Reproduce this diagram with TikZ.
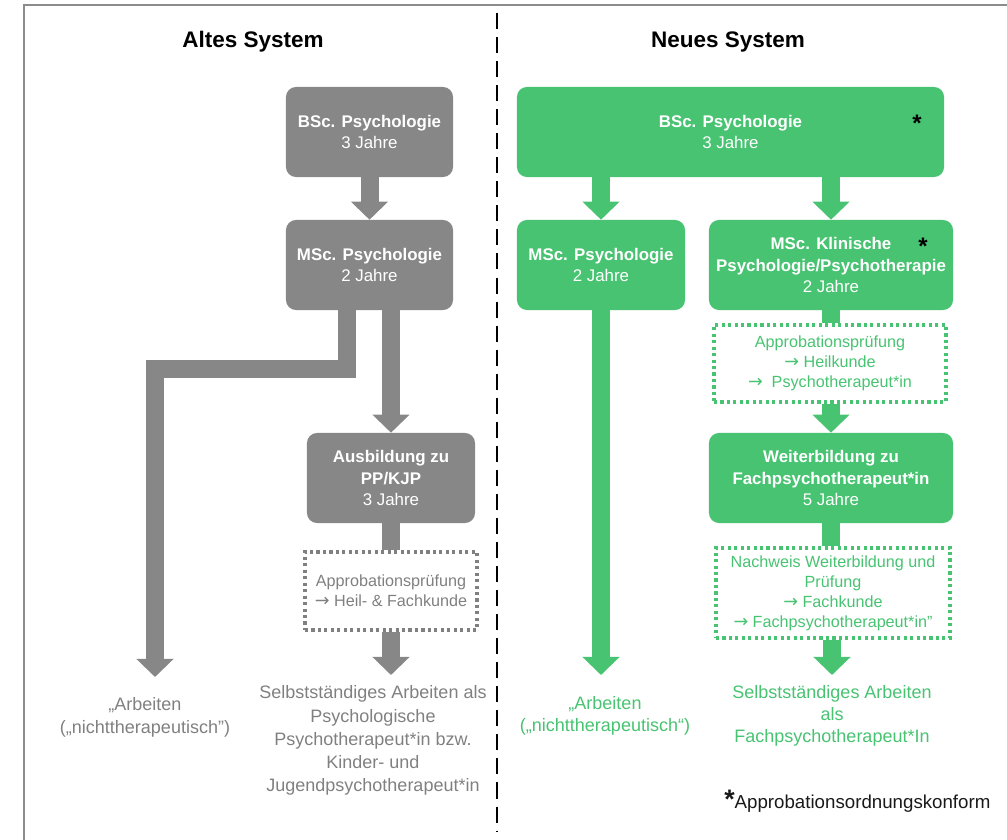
\documentclass[tikz,border=0pt]{standalone}
\usepackage{fontspec}
\setmainfont{Liberation Sans}
\newfontfamily\pfeilfont{DejaVu Sans}
\newcommand{\pfeil}{{\pfeilfont\fontsize{12.5}{12}\selectfont →}}
\usetikzlibrary{arrows.meta}
\definecolor{altgrey}{RGB}{135,135,135}
\definecolor{alttext}{RGB}{128,128,128}
\definecolor{neugreen}{RGB}{71,195,113}
\tikzset{
  stagebox/.style={rounded corners=0.25cm, text=white, align=center, minimum height=2.25cm, inner sep=2pt, font=\fontsize{12}{15.3}\selectfont},
  greybox/.style={stagebox, fill=altgrey, minimum width=4.175cm},
  greenbox/.style={stagebox, fill=neugreen},
  dotbox/.style={draw, line width=2.2pt, dash pattern=on 2.2pt off 2.4pt, align=center, inner sep=2pt, font=\fontsize{11.5}{14.2}\selectfont},
  shaft/.style={line width=0.45cm},
  arr/.style={shaft, -{Triangle[width=0.9cm,length=0.45cm]}},
  endtext/.style={align=center, anchor=north, inner xsep=0pt, font=\fontsize{12.8}{16.5}\selectfont},
  systitle/.style={font=\fontsize{16}{19}\selectfont\bfseries},
  asterisk/.style={inner sep=0pt, font=\fontsize{17}{17}\selectfont\bfseries},
}
\begin{document}
\begin{tikzpicture}[x=0.025cm, y=-0.025cm]
\useasboundingbox (0,0) rectangle (1007,840);
\clip (0,0) rectangle (1007,840);
\draw[black!45, line width=1.4pt] (24,5) rectangle (1040,870);
\draw[line width=1.4pt, dash pattern=on 11.4pt off 5.7pt] (497,13) -- (497,832);

\node[systitle] (altT) at (253,42) {Altes System};
\node[systitle] (neuT) at (728,42) {Neues System};

% altes System
\node[greybox] (bscA) at (369.5,132) {\textbf{BSc. Psychologie}\\3 Jahre};
\node[greybox] (mscA) at (369.5,265) {\textbf{MSc. Psychologie}\\2 Jahre};
\node[greybox, minimum width=4.2cm] (ausA) at (391,478) {\textbf{Ausbildung zu}\\\textbf{PP/KJP}\\3 Jahre};
\node[dotbox, draw=alttext, text=alttext, minimum width=4.3cm, minimum height=1.95cm] (appA) at (391,591) {Approbationsprüfung\\\pfeil{} Heil- \& Fachkunde};
\node[endtext, text=alttext, inner ysep=7.5pt] (selbA) at (373,675) {Selbstständiges Arbeiten als\\Psychologische\\Psychotherapeut*in bzw.\\Kinder- und\\Jugendpsychotherapeut*in};
\node[endtext, text=alttext, inner ysep=14pt] (arbA) at (145,677) {„Arbeiten\\(„nichttherapeutisch”)};

\draw[arr, altgrey] (bscA) -- (mscA);
\draw[arr, altgrey] ([xshift=-0.5625cm]mscA.south) -- ++(0,59) -| ([xshift=0.25cm]arbA.north);
\draw[arr, altgrey] (mscA.south -| ausA.north) -- (ausA.north);
\draw[shaft, altgrey] (ausA) -- (appA);
\draw[arr, altgrey] (appA.south) -- (appA.south |- selbA.north);

% neues System
\node[greenbox, minimum width=10.675cm] (bscN) at (730.5,132) {\textbf{BSc. Psychologie}\\3 Jahre};
\node[greenbox, minimum width=4.2cm] (mscN) at (601,265) {\textbf{MSc. Psychologie}\\2 Jahre};
\node[greenbox, minimum width=6.1cm] (mscK) at (831,265) {\textbf{MSc. Klinische}\\\textbf{Psychologie/Psychotherapie}\\2 Jahre};
\node[dotbox, draw=neugreen, text=neugreen, minimum width=5.8cm, minimum height=1.925cm] (appN) at (830,363.5) {Approbationsprüfung\\\pfeil{} Heilkunde\\\pfeil\ \ Psychotherapeut*in};
\node[greenbox, minimum width=6.1cm] (weiN) at (831,478) {\textbf{Weiterbildung zu}\\\textbf{Fachpsychotherapeut*in}\\5 Jahre};
\node[dotbox, draw=neugreen, text=neugreen, minimum width=5.85cm, minimum height=2.25cm] (nachN) at (833,593) {Nachweis Weiterbildung und\\Prüfung\\\pfeil{} Fachkunde\\\pfeil{} Fachpsychotherapeut*in”};
\node[endtext, text=neugreen, inner ysep=7.5pt, font=\fontsize{12.8}{15.5}\selectfont] (selbN) at (832,675) {Selbstständiges Arbeiten\\als\\Fachpsychotherapeut*In};
\node[endtext, text=neugreen, inner ysep=15pt, font=\fontsize{12.8}{15.5}\selectfont] (arbN) at (605,675) {„Arbeiten\\(„nichttherapeutisch“)};
\node[asterisk] (starB) at (917,123) {*};
\node[asterisk] (starK) at (923,246) {*};
\node[anchor=base west, inner sep=0pt, text=black!90] (fussN) at (724,808) {{\fontsize{19}{19}\selectfont\bfseries *}\fontsize{13.3}{15}\selectfont Approbationsordnungskonform};

\draw[arr, neugreen] (bscN.south -| mscN.north) -- (mscN.north);
\draw[arr, neugreen] (bscN.south -| mscK.north) -- (mscK.north);
\draw[arr, neugreen] (mscN.south) -- (mscN.south |- arbN.north);
\draw[shaft, neugreen] (mscK.south) -- (mscK.south |- appN.north);
\draw[arr, neugreen] (appN.south -| weiN.north) -- (weiN.north);
\draw[shaft, neugreen] (weiN.south) -- (weiN.south |- nachN.north);
\draw[arr, neugreen] (nachN.south -| selbN.north) -- (selbN.north);
\end{tikzpicture}
\end{document}
